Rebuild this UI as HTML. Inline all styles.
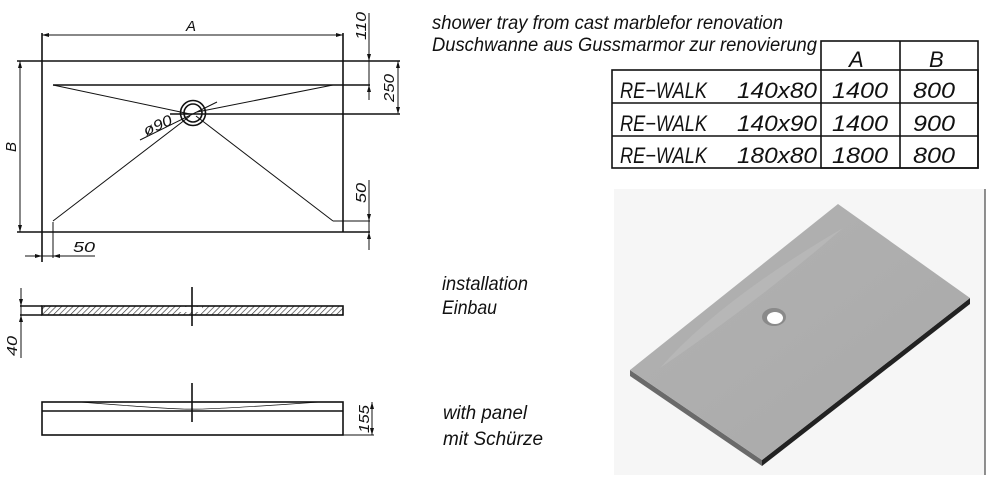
<!DOCTYPE html>
<html><head><meta charset="utf-8"><style>
html,body{margin:0;padding:0;background:#fff;width:1000px;height:486px;overflow:hidden}
svg text{font-family:"Liberation Sans",sans-serif;font-style:italic;fill:#111}
</style></head><body>
<svg width="1000" height="486" viewBox="0 0 1000 486" xmlns="http://www.w3.org/2000/svg">
<defs>
<pattern id="h" width="4" height="4" patternUnits="userSpaceOnUse" patternTransform="rotate(45)"><line x1="0" y1="0" x2="0" y2="4" stroke="#333" stroke-width="1.3"/></pattern>
<linearGradient id="g" x1="0" y1="0" x2="1" y2="1"><stop offset="0" stop-color="#b2b2b2"/><stop offset="1" stop-color="#a9a9a9"/></linearGradient>
</defs>
<g stroke="#111" fill="none" stroke-width="1.6">
<line x1="17" y1="61" x2="400" y2="61"/>
<line x1="17" y1="232" x2="370" y2="232"/>
<line x1="42" y1="33" x2="42" y2="262"/>
<line x1="343" y1="33" x2="343" y2="232"/>
<line x1="42" y1="35" x2="343" y2="35" stroke-width="1"/>
<line x1="20" y1="61" x2="20" y2="232" stroke-width="1"/>
<line x1="53" y1="85" x2="370" y2="85"/>
<line x1="170" y1="114" x2="400" y2="114"/>
<circle cx="193" cy="113" r="12.5"/><circle cx="193" cy="113" r="9"/>
<g stroke-width="1">
<line x1="53" y1="85" x2="190" y2="114"/><line x1="333" y1="85" x2="197" y2="112"/>
<line x1="53" y1="221" x2="190" y2="116"/><line x1="333" y1="221" x2="196" y2="116"/>
<line x1="140" y1="140" x2="217" y2="102"/>
<line x1="53" y1="222" x2="53" y2="258"/>
<line x1="25" y1="256" x2="95" y2="256"/>
<line x1="369" y1="13" x2="369" y2="100"/>
<line x1="398" y1="61" x2="398" y2="113"/>
<line x1="369" y1="180" x2="369" y2="250"/>
<line x1="333" y1="221" x2="370" y2="221"/>
</g>
<rect x="42" y="306" width="301" height="9" fill="url(#h)"/>
<rect x="180" y="307" width="22" height="5" fill="#fff" stroke="none"/>
<line x1="20" y1="306" x2="42" y2="306"/><line x1="20" y1="315" x2="42" y2="315"/>
<line x1="192" y1="287" x2="192" y2="326"/>
<line x1="21" y1="288" x2="21" y2="358" stroke-width="1"/>
<rect x="42" y="402" width="301" height="33"/>
<line x1="42" y1="411" x2="343" y2="411"/>
<path d="M80 402 Q180 410 192 409 Q205 410 320 402" stroke-width="0.7"/>
<line x1="192" y1="383" x2="192" y2="422"/>
<line x1="372" y1="402" x2="372" y2="435" stroke-width="1"/>
<line x1="343" y1="435" x2="374" y2="435" stroke-width="1"/>
<rect x="821" y="41" width="157" height="127"/>
<rect x="612" y="70" width="366" height="98"/>
<line x1="612" y1="103" x2="978" y2="103"/><line x1="612" y1="136" x2="978" y2="136"/>
<line x1="900" y1="41" x2="900" y2="168"/>
</g>
<g fill="#111">
<path d="M42 35l7-2v4z M343 35l-7-2v4z M20 61l-2 7h4z M20 232l-2-7h4z M42 256l-7-2v4z M53 256l7-2v4z M369 61l-2-7h4z M369 85l-2 7h4z M398 61l-2 7h4z M398 114l-2-7h4z M369 221l-2-7h4z M369 232l-2 7h4z M372 402l-2 7h4z M372 435l-2-7h4z M21 306l-2-7h4z M21 315l-2 7h4z"/>
</g>
<g font-size="15">
<text x="186" y="31">A</text>
<text transform="translate(16,152) rotate(-90)">B</text>
<text x="73" y="252" textLength="22" lengthAdjust="spacingAndGlyphs">50</text>
<text transform="translate(366,40) rotate(-90)" textLength="28" lengthAdjust="spacingAndGlyphs">110</text>
<text transform="translate(394,102) rotate(-90)" textLength="28" lengthAdjust="spacingAndGlyphs">250</text>
<text transform="translate(366,203) rotate(-90)" textLength="20" lengthAdjust="spacingAndGlyphs">50</text>
<text transform="translate(146,136) rotate(-24)" textLength="30" lengthAdjust="spacingAndGlyphs">ø90</text>
<text transform="translate(17,356) rotate(-90)" textLength="20" lengthAdjust="spacingAndGlyphs">40</text>
<text transform="translate(369,433) rotate(-90)" textLength="28" lengthAdjust="spacingAndGlyphs">155</text>
</g>
<g font-size="19">
<text x="432" y="29" textLength="351" lengthAdjust="spacingAndGlyphs">shower tray from cast marblefor renovation</text>
<text x="432" y="51" textLength="385" lengthAdjust="spacingAndGlyphs">Duschwanne aus Gussmarmor zur renovierung</text>
<text x="442" y="290" textLength="86" lengthAdjust="spacingAndGlyphs">installation</text>
<text x="442" y="314" textLength="55" lengthAdjust="spacingAndGlyphs">Einbau</text>
<text x="443" y="419" textLength="84" lengthAdjust="spacingAndGlyphs">with panel</text>
<text x="443" y="445" textLength="100" lengthAdjust="spacingAndGlyphs">mit Schürze</text>
</g>
<g font-size="22" style="fill:#222">
<text x="849" y="67">A</text><text x="929" y="67">B</text>
<text x="620" y="98" textLength="87" lengthAdjust="spacingAndGlyphs">RE−WALK</text>
<text x="737" y="98" textLength="80" lengthAdjust="spacingAndGlyphs">140x80</text>
<text x="832" y="98" textLength="56" lengthAdjust="spacingAndGlyphs">1400</text><text x="913" y="98" textLength="42" lengthAdjust="spacingAndGlyphs">800</text>
<text x="620" y="131" textLength="87" lengthAdjust="spacingAndGlyphs">RE−WALK</text>
<text x="737" y="131" textLength="80" lengthAdjust="spacingAndGlyphs">140x90</text>
<text x="832" y="131" textLength="56" lengthAdjust="spacingAndGlyphs">1400</text><text x="913" y="131" textLength="42" lengthAdjust="spacingAndGlyphs">900</text>
<text x="620" y="163" textLength="87" lengthAdjust="spacingAndGlyphs">RE−WALK</text>
<text x="737" y="163" textLength="80" lengthAdjust="spacingAndGlyphs">180x80</text>
<text x="832" y="163" textLength="56" lengthAdjust="spacingAndGlyphs">1800</text><text x="913" y="163" textLength="42" lengthAdjust="spacingAndGlyphs">800</text>
</g>
<rect x="614" y="189" width="371" height="286" fill="#f6f6f6"/>
<line x1="985" y1="189" x2="985" y2="475" stroke="#222" stroke-width="1"/>
<polygon points="630,370 762,460 762,466 630,376" fill="#6a6a6a"/>
<polygon points="762,460 970,298 970,304 762,466" fill="#222"/>
<polygon points="838,204 970,298 762,460 630,370" fill="url(#g)"/>
<path d="M660 368 Q720 300 843 228 Q760 300 660 368Z" fill="#bdbdbd" opacity="0.6"/>
<ellipse cx="774" cy="317" rx="12" ry="9" fill="#8a8a8a"/>
<ellipse cx="775" cy="318" rx="8" ry="6" fill="#fff"/>
</svg>
</body></html>
